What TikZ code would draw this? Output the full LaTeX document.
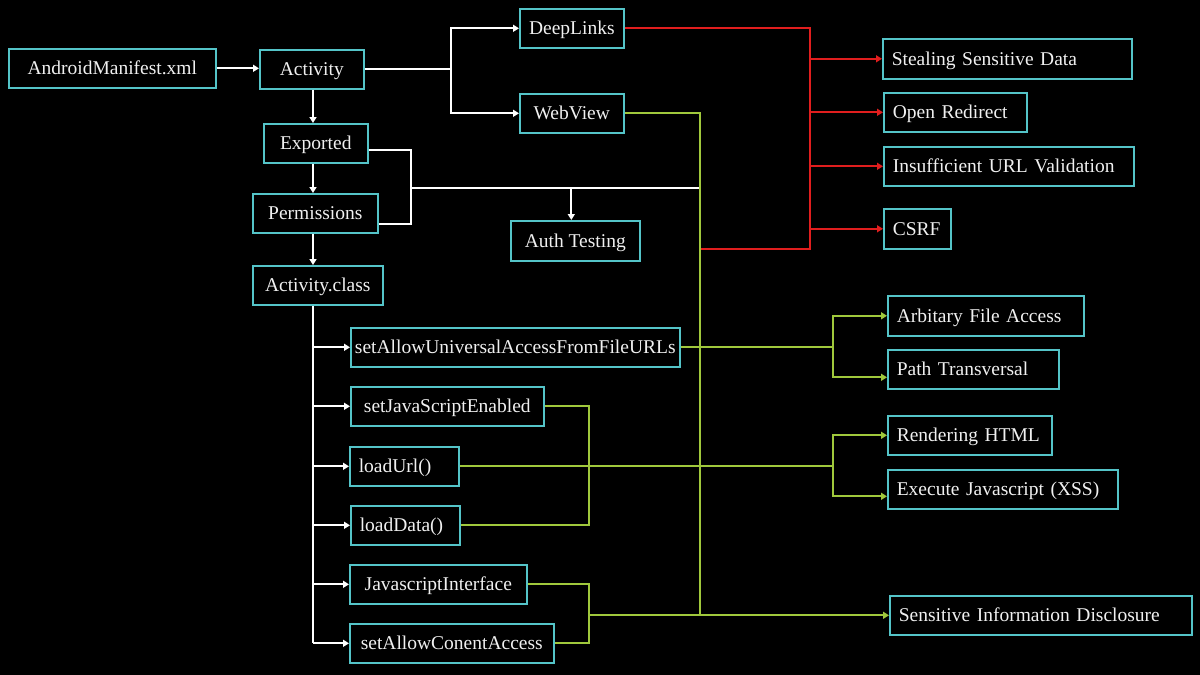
\documentclass[tikz,border=0pt]{standalone}
\usepackage{fontspec}
\setmainfont{Liberation Serif}
\usetikzlibrary{arrows.meta}
\definecolor{boxc}{RGB}{84,196,200}
\definecolor{grn}{RGB}{160,200,60}
\definecolor{rd}{RGB}{225,30,30}
\definecolor{txt}{RGB}{240,240,240}
\tikzset{
  box/.style={draw=boxc, line width=1.6pt, fill=black, text=txt, anchor=north west,
    font=\fontsize{19.5}{22}\selectfont, text height=16pt, text depth=3pt, inner xsep=0pt, inner ysep=0pt},
  lbox/.style={box, align=left},
  wline/.style={draw=white, line width=2pt},
  warr/.style={wline, -{Triangle[length=6pt,width=7pt]}},
  gline/.style={draw=grn, line width=1.8pt},
  garr/.style={gline, -{Triangle[length=6pt,width=7pt]}},
  rline/.style={draw=rd, line width=1.8pt},
  rarr/.style={rline, -{Triangle[length=6pt,width=7pt]}},
}
% box helpers: centered (minimum width/height) and left aligned (text width)
\newcommand{\cbox}[6]{\node[box, minimum width=#4pt, minimum height=#5pt] (#1) at (#2,#3) {#6};}
\newcommand{\lbx}[6]{\node[lbox, minimum height=#5pt, text width=#4pt-18pt, inner xsep=9pt] (#1) at (#2,#3) {#6};}
\begin{document}
\begin{tikzpicture}[x=1pt,y=-1pt]
\fill[black] (0,0) rectangle (1200,675);
\useasboundingbox (0,0) rectangle (1200,675);
% left column
\cbox{am}{8}{48}{207}{39}{AndroidManifest.xml}
\cbox{act}{259}{49}{104}{39}{Activity}
\cbox{exp}{263}{123}{104}{39}{Exported}
\cbox{perm}{252}{193}{125}{39}{Permissions}
\cbox{ac}{252}{265}{130}{39}{Activity.class}
% middle
\cbox{dl}{519}{8}{104}{39}{DeepLinks}
\cbox{wv}{519}{93}{104}{39}{WebView}
\cbox{auth}{510}{220}{129}{40}{Auth Testing}
% methods
\cbox{sau}{350}{327}{329}{39}{setAllowUniversalAccessFromFileURLs}
\cbox{sje}{350}{386}{193}{39}{setJavaScriptEnabled}
\lbx{lu}{349}{446}{109}{39}{loadUrl()}
\lbx{ld}{350}{505}{109}{39}{loadData()}
\cbox{ji}{349}{564}{177}{39}{JavascriptInterface}
\cbox{sca}{349}{623}{204}{39}{setAllowConentAccess}
% right column
\lbx{ssd}{882}{38}{249}{40}{Stealing Sensitive Data}
\lbx{ord}{883}{92}{143}{39}{Open Redirect}
\lbx{iuv}{883}{146}{250}{39}{Insufficient URL Validation}
\lbx{csrf}{883}{208}{67}{40}{CSRF}
\lbx{afa}{887}{295}{196}{40}{Arbitary File Access}
\lbx{pt}{887}{349}{171}{39}{Path Transversal}
\lbx{rh}{887}{415}{164}{39}{Rendering HTML}
\lbx{ex}{887}{469}{230}{39}{Execute Javascript (XSS)}
\lbx{sid}{889}{595}{302}{39}{Sensitive Information Disclosure}
% junction coordinates
\coordinate (xv) at (313,0);
\coordinate (j1) at (451,0);
\coordinate (jb) at (411,188);
\coordinate (jw) at (700,188);
\coordinate (gx) at (700,0);
\coordinate (rx) at (810,0);
\coordinate (rb) at (810,249);
\coordinate (gr) at (700,249);
\coordinate (g1) at (833,0);
\coordinate (g3) at (589,0);
% white connectors
\draw[warr] (am.east) -- (am.east -| act.west);
\draw[wline] (act.east) -- (act.east -| j1);
\draw[warr] (act.east -| j1) |- (dl.west);
\draw[warr] (act.east -| j1) |- (wv.west);
\draw[warr] (act.south -| xv) -- (exp.north -| xv);
\draw[warr] (exp.south -| xv) -- (perm.north -| xv);
\draw[warr] (perm.south -| xv) -- (ac.north -| xv);
\draw[wline] ([yshift=-7pt]exp.east) -| ([yshift=-11pt]perm.east -| jb) -- ([yshift=-11pt]perm.east);
\draw[wline] (jb) -- (jw);
\draw[warr] ([xshift=-4pt]auth.north |- jb) -- ([xshift=-4pt]auth.north);
\draw[wline] (ac.south -| xv) -- (xv |- sca.west);
\foreach \m in {sau,sje,lu,ld,ji,sca}{\draw[warr] (xv |- \m.west) -- (\m.west);}
% red connectors
\draw[rline] (dl.east) -| (rb) -- (gr);
\foreach \m in {ssd,ord,iuv,csrf}{\draw[rarr] (rx |- \m.west) -- (\m.west);}
% green connectors
\draw[gline] (wv.east) -| (gx |- sid.west);
\draw[gline] (sau.east) -- (sau.east -| g1);
\draw[garr] (sau.east -| g1) |- (afa.west);
\draw[garr] (sau.east -| g1) |- ([yshift=-8pt]pt.west);
\draw[gline] (sje.east) -| (g3 |- ld.east) -- (ld.east);
\draw[gline] (lu.east) -- (lu.east -| g1);
\draw[garr] (lu.east -| g1) |- (rh.west);
\draw[garr] (lu.east -| g1) |- ([yshift=-7pt]ex.west);
\draw[gline] (ji.east) -| (g3 |- sca.east) -- (sca.east);
\draw[garr] (g3 |- sid.west) -- (sid.west);
\end{tikzpicture}
\end{document}
